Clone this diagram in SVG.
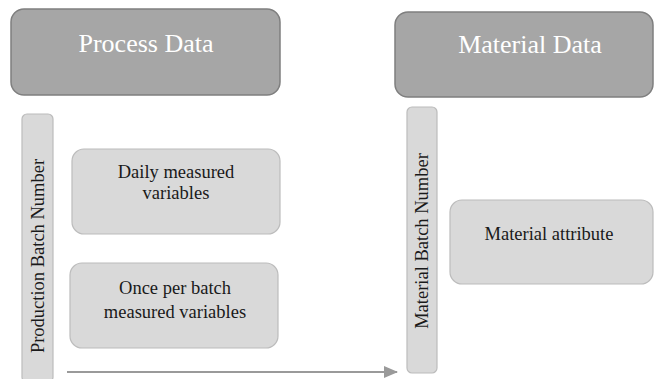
<svg xmlns="http://www.w3.org/2000/svg" width="654" height="379" viewBox="0 0 654 379">
<style>
.hdr{fill:#a6a6a6;stroke:#7f7f7f;stroke-width:1.5}
.box{fill:#d9d9d9;stroke:#bcbcbc;stroke-width:1.2}
.ht{font-family:"Times New Roman","Liberation Serif","DejaVu Serif",serif;font-size:26px;fill:#ffffff;text-anchor:middle}
.bt{font-family:"Times New Roman","Liberation Serif","DejaVu Serif",serif;font-size:18.5px;fill:#1a1a1a;text-anchor:middle}
.con{stroke:#9a9a9a;stroke-width:2;fill:none}
</style>
<defs>
<marker id="ah" markerWidth="14" markerHeight="12" refX="13" refY="6" orient="auto" markerUnits="userSpaceOnUse" viewBox="0 0 14 12">
<path d="M0,0 L14,6 L0,12 z" fill="#9a9a9a"/>
</marker>
</defs>
<g id="process-data">
<rect class="hdr" x="11" y="9" width="269" height="86" rx="13"/>
<text class="ht" x="146" y="52">Process Data</text>
</g>
<g id="material-data">
<rect class="hdr" x="395" y="12" width="258" height="85" rx="13"/>
<text class="ht" x="530" y="53">Material Data</text>
</g>
<g id="production-batch-number">
<rect class="box" x="22" y="114" width="31" height="268" rx="5"/>
<text class="bt" transform="translate(43.5,256) rotate(-90)" x="0" y="0">Production Batch Number</text>
</g>
<g id="daily-measured">
<rect class="box" x="72" y="149" width="208" height="85" rx="12"/>
<text class="bt" x="176" y="178">Daily measured</text>
<text class="bt" x="176" y="199">variables</text>
</g>
<g id="once-per-batch">
<rect class="box" x="70" y="263" width="208" height="85" rx="12"/>
<text class="bt" x="175" y="294">Once per batch</text>
<text class="bt" x="175" y="318">measured variables</text>
</g>
<g id="material-batch-number">
<rect class="box" x="407" y="107" width="30" height="266" rx="5"/>
<text class="bt" transform="translate(428,241) rotate(-90)" x="0" y="0">Material Batch Number</text>
</g>
<g id="material-attribute">
<rect class="box" x="450" y="200" width="203" height="84" rx="12"/>
<text class="bt" x="549" y="240">Material attribute</text>
</g>
<g id="connectors">
<line class="con" x1="67" y1="372" x2="397" y2="372" marker-end="url(#ah)"/>
</g>
</svg>
